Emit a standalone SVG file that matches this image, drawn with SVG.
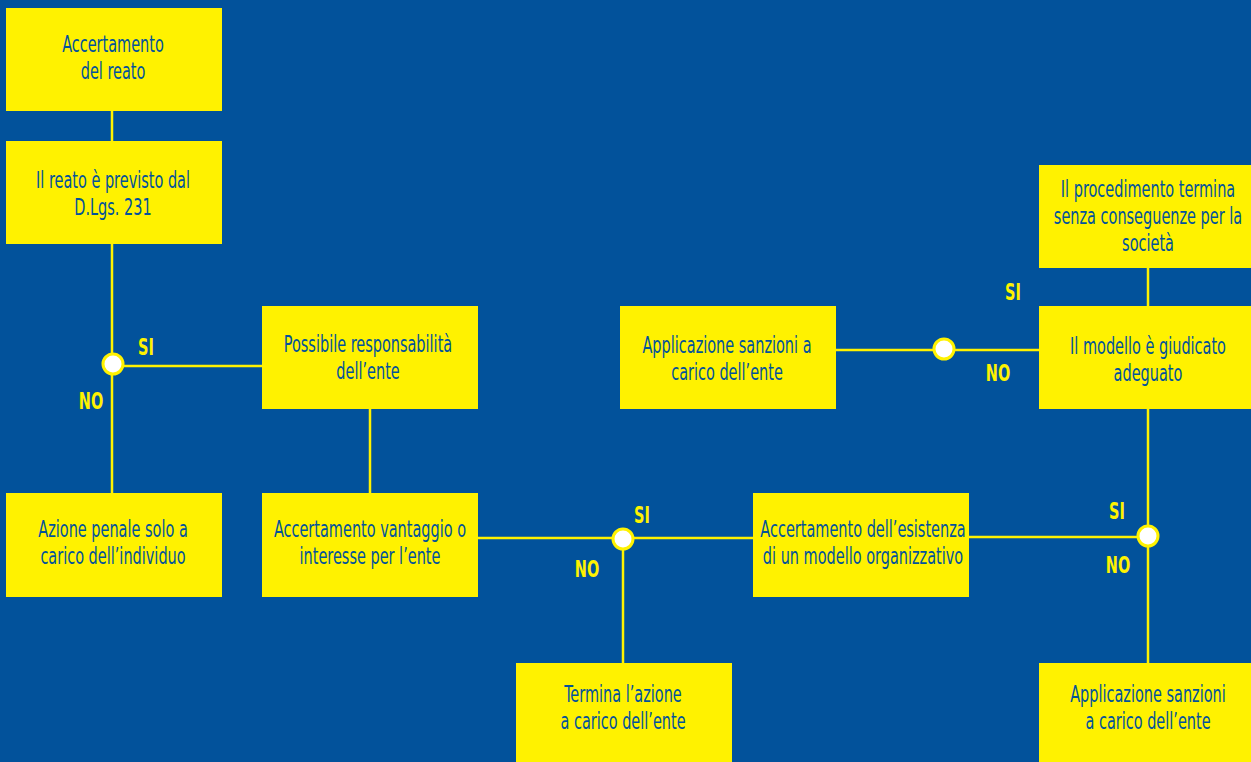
<svg xmlns="http://www.w3.org/2000/svg" width="1251" height="762" viewBox="0 0 1251 762">
<style>
.bg{fill:#02529b}
.box{fill:#fff200}
.t{font-family:"DejaVu Sans Condensed","DejaVu Sans",sans-serif;font-size:23px;fill:#02529b;text-anchor:middle}
.ln{stroke:#fff200;stroke-width:2.5;fill:none}
.dot{fill:#ffffff;stroke:#fff200;stroke-width:3}
.lbl{font-family:"DejaVu Sans Condensed","DejaVu Sans",sans-serif;font-size:23px;font-weight:bold;fill:#fff200;text-anchor:middle}
</style>
<rect class="bg" x="0" y="0" width="1251" height="762"/>
<g id="connectors">
<line class="ln" x1="112" y1="111" x2="112" y2="141"/>
<line class="ln" x1="112" y1="244" x2="112" y2="493"/>
<line class="ln" x1="112" y1="366" x2="262" y2="366"/>
<line class="ln" x1="370" y1="409" x2="370" y2="493"/>
<line class="ln" x1="478" y1="538" x2="753" y2="538"/>
<line class="ln" x1="623" y1="538" x2="623" y2="663"/>
<line class="ln" x1="969" y1="537" x2="1148" y2="537"/>
<line class="ln" x1="1148" y1="409" x2="1148" y2="663"/>
<line class="ln" x1="836" y1="350" x2="1039" y2="350"/>
<line class="ln" x1="1148" y1="268" x2="1148" y2="306"/>
<circle class="dot" cx="113" cy="364" r="10"/>
<circle class="dot" cx="623" cy="539" r="10"/>
<circle class="dot" cx="1148" cy="536" r="10"/>
<circle class="dot" cx="944" cy="349" r="10"/>
<text class="lbl" transform="translate(146,354.5) scale(0.7,1)">SI</text>
<text class="lbl" transform="translate(91,408.5) scale(0.7,1)">NO</text>
<text class="lbl" transform="translate(642,522.5) scale(0.7,1)">SI</text>
<text class="lbl" transform="translate(587,576.5) scale(0.7,1)">NO</text>
<text class="lbl" transform="translate(1117,518.5) scale(0.7,1)">SI</text>
<text class="lbl" transform="translate(1118,572.5) scale(0.7,1)">NO</text>
<text class="lbl" transform="translate(1013,299.5) scale(0.7,1)">SI</text>
<text class="lbl" transform="translate(998,380.5) scale(0.7,1)">NO</text>
</g>
<g id="n1"><rect class="box" x="6" y="8" width="216" height="103"/><text class="t" transform="translate(113,51.5) scale(0.7,1)">Accertamento</text><text class="t" transform="translate(113,78.5) scale(0.7,1)">del reato</text></g>
<g id="n2"><rect class="box" x="6" y="141" width="216" height="103"/><text class="t" transform="translate(113,187.5) scale(0.7,1)">Il reato è previsto dal</text><text class="t" transform="translate(113,214.5) scale(0.7,1)">D.Lgs. 231</text></g>
<g id="n3"><rect class="box" x="6" y="493" width="216" height="104"/><text class="t" transform="translate(113,536.5) scale(0.7,1)">Azione penale solo a</text><text class="t" transform="translate(113,563.5) scale(0.7,1)">carico dell’individuo</text></g>
<g id="n4"><rect class="box" x="262" y="306" width="216" height="103"/><text class="t" transform="translate(368,351.5) scale(0.7,1)">Possibile responsabilità</text><text class="t" transform="translate(368,378.5) scale(0.7,1)">dell’ente</text></g>
<g id="n5"><rect class="box" x="262" y="493" width="216" height="104"/><text class="t" transform="translate(370,536.5) scale(0.7,1)">Accertamento vantaggio o</text><text class="t" transform="translate(370,563.5) scale(0.7,1)">interesse per l’ente</text></g>
<g id="n6"><rect class="box" x="516" y="663" width="216" height="99"/><text class="t" transform="translate(623,701.5) scale(0.7,1)">Termina l’azione</text><text class="t" transform="translate(623,728.5) scale(0.7,1)">a carico dell’ente</text></g>
<g id="n7"><rect class="box" x="753" y="493" width="216" height="104"/><text class="t" transform="translate(863,536.5) scale(0.7,1)">Accertamento dell’esistenza</text><text class="t" transform="translate(863,563.5) scale(0.7,1)">di un modello organizzativo</text></g>
<g id="n8"><rect class="box" x="620" y="306" width="216" height="103"/><text class="t" transform="translate(727,352.5) scale(0.7,1)">Applicazione sanzioni a</text><text class="t" transform="translate(727,379.5) scale(0.7,1)">carico dell’ente</text></g>
<g id="n9"><rect class="box" x="1039" y="306" width="216" height="103"/><text class="t" transform="translate(1148,353.5) scale(0.7,1)">Il modello è giudicato</text><text class="t" transform="translate(1148,380.5) scale(0.7,1)">adeguato</text></g>
<g id="n10"><rect class="box" x="1039" y="165" width="216" height="103"/><text class="t" transform="translate(1148,196.5) scale(0.7,1)">Il procedimento termina</text><text class="t" transform="translate(1148,223.5) scale(0.7,1)">senza conseguenze per la</text><text class="t" transform="translate(1148,250.5) scale(0.7,1)">società</text></g>
<g id="n11"><rect class="box" x="1039" y="663" width="216" height="99"/><text class="t" transform="translate(1148,701.5) scale(0.7,1)">Applicazione sanzioni</text><text class="t" transform="translate(1148,728.5) scale(0.7,1)">a carico dell’ente</text></g>
</svg>
